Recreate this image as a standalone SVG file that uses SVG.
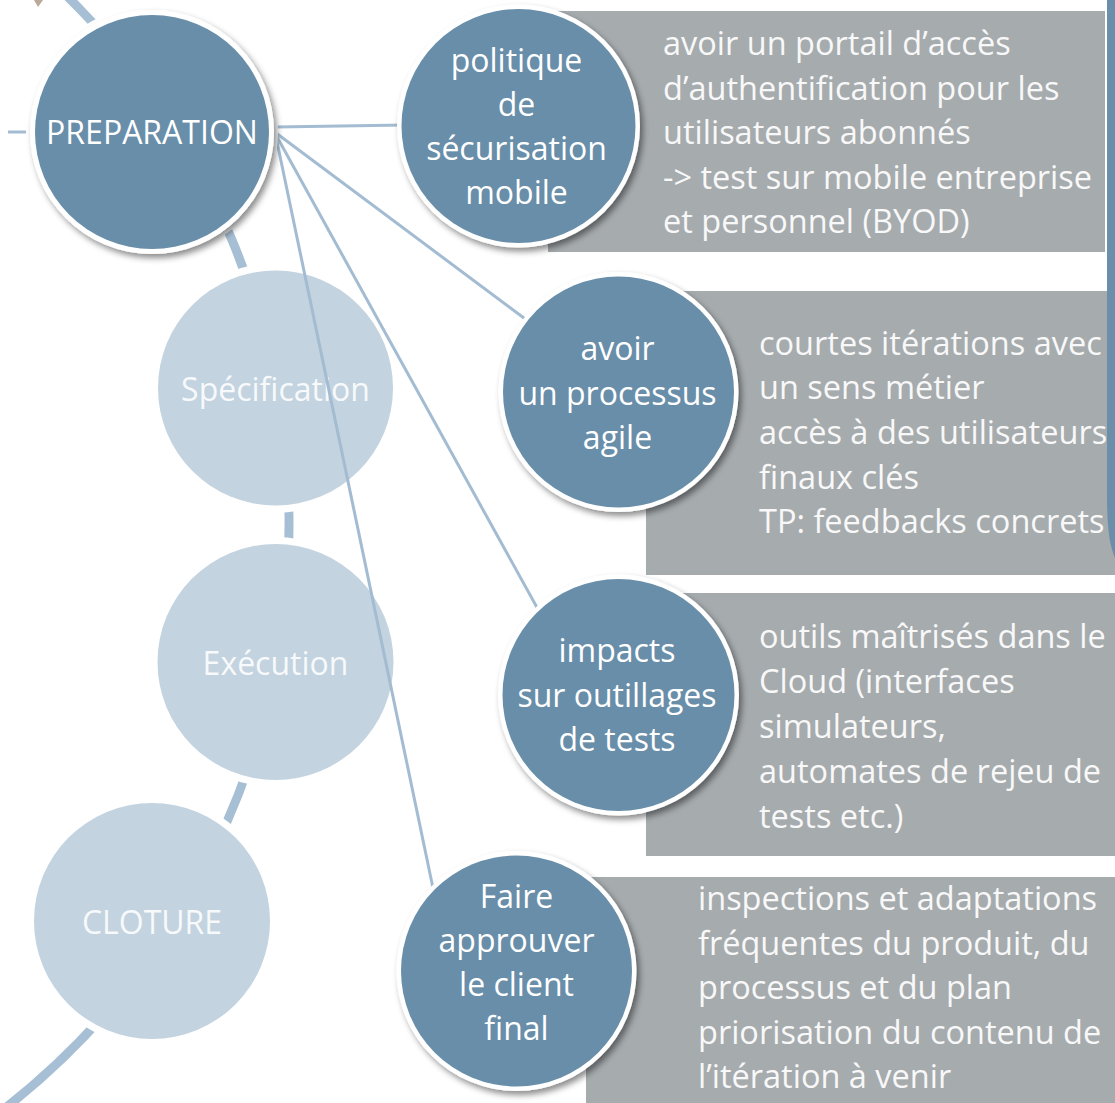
<svg xmlns="http://www.w3.org/2000/svg" width="1115" height="1103" viewBox="0 0 1115 1103">
<defs>
<filter id="sh" x="-20%" y="-20%" width="140%" height="140%">
<feDropShadow dx="3" dy="4" stdDeviation="3" flood-color="#000" flood-opacity="0.45"/>
</filter>
<style>
.arc{fill:none;stroke:#a7bfd4;stroke-width:9}
.con{stroke:#a3bcd2;stroke-width:3;fill:none}
.halo{fill:#fff}
.light{fill:#c3d3df}
.ring{fill:#fff}
.dark{fill:#688ea9}
.box{fill:#a6abae}
.t{font-family:"Open Sans","Liberation Sans",sans-serif;font-size:32px;fill:#fff}
.c{text-anchor:middle}
.lt{fill:#f7f9fb}
.bt{fill:#f8f8f8;font-size:32.5px}
</style>
</defs>
<rect width="1115" height="1103" fill="#fff"/>
<g id="background">
<path class="arc" d="M60.7,-10 A741,741 0 0 1 -3.7,1115"/>
<polygon points="34,0 43,0 38,7" fill="#b9aa9a"/>
<line x1="8" y1="132" x2="30" y2="132" class="con"/>
</g>
<g id="spec">
<circle class="halo" cx="275.5" cy="388" r="125"/>
<circle class="light" cx="275.5" cy="388" r="117.5"/>
<text class="t c lt" x="275.5" y="401">Spécification</text>
</g>
<g id="exec">
<circle class="halo" cx="275.5" cy="662" r="125"/>
<circle class="light" cx="275.5" cy="662" r="118"/>
<text class="t c lt" x="275.5" y="675">Exécution</text>
</g>
<g id="cloture">
<circle class="halo" cx="152" cy="921" r="125"/>
<circle class="light" cx="152" cy="921" r="118"/>
<text class="t c lt" x="152" y="934">CLOTURE</text>
</g>
<g id="box1">
<rect class="box" x="548" y="11" width="557" height="241"/>
<text class="t bt" x="663"><tspan x="663" y="55">avoir un portail d’accès</tspan><tspan x="663" y="100">d’authentification pour les</tspan><tspan x="663" y="144">utilisateurs abonnés</tspan><tspan x="663" y="189">-&gt; test sur mobile entreprise</tspan><tspan x="663" y="233">et personnel (BYOD)</tspan></text>
</g>
<g id="box2">
<rect class="box" x="646" y="291" width="469" height="284"/>
<text class="t bt" x="759"><tspan x="759" y="355">courtes itérations avec</tspan><tspan x="759" y="399">un sens métier</tspan><tspan x="759" y="444">accès à des utilisateurs</tspan><tspan x="759" y="489">finaux clés</tspan><tspan x="759" y="533">TP: feedbacks concrets</tspan></text>
</g>
<g id="box3">
<rect class="box" x="646" y="593" width="469" height="263"/>
<text class="t bt" x="759"><tspan x="759" y="648">outils maîtrisés dans le</tspan><tspan x="759" y="693">Cloud (interfaces</tspan><tspan x="759" y="738">simulateurs,</tspan><tspan x="759" y="783">automates de rejeu de</tspan><tspan x="759" y="828">tests etc.)</tspan></text>
</g>
<g id="box4">
<rect class="box" x="586" y="877" width="529" height="226"/>
<text class="t bt" x="698"><tspan x="698" y="910">inspections et adaptations</tspan><tspan x="698" y="955">fréquentes du produit, du</tspan><tspan x="698" y="999">processus et du plan</tspan><tspan x="698" y="1044">priorisation du contenu de</tspan><tspan x="698" y="1088">l’itération à venir</tspan></text>
</g>
<g id="sidebar">
<path d="M1107,0 L1107,495 C1107,530 1110,548 1116,560 L1116,0 Z" fill="#6b8fab"/>
</g>
<g id="connectors">
<line class="con" x1="276" y1="127" x2="405" y2="125"/>
<line class="con" x1="276" y1="133" x2="540" y2="330"/>
<line class="con" x1="276" y1="135" x2="545" y2="622"/>
<line class="con" x1="276" y1="137" x2="438" y2="912"/>
</g>
<g id="preparation">
<circle class="halo" cx="152" cy="132" r="126"/>
<circle class="ring" cx="152" cy="132" r="122" filter="url(#sh)"/>
<circle class="dark" cx="152" cy="132" r="117"/>
<text class="t c" x="152" y="144">PREPARATION</text>
</g>
<g id="politique">
<circle class="ring" cx="518.5" cy="126" r="121.5" filter="url(#sh)"/>
<circle class="dark" cx="518.5" cy="126" r="117"/>
<text class="t c"><tspan x="516.5" y="72">politique</tspan><tspan x="516.5" y="116">de</tspan><tspan x="516.5" y="160">sécurisation</tspan><tspan x="516.5" y="204">mobile</tspan></text>
</g>
<g id="agile">
<circle class="ring" cx="618.5" cy="392" r="120" filter="url(#sh)"/>
<circle class="dark" cx="618.5" cy="392" r="115.5"/>
<text class="t c"><tspan x="617.5" y="360">avoir</tspan><tspan x="617.5" y="405">un processus</tspan><tspan x="617.5" y="449">agile</tspan></text>
</g>
<g id="impacts">
<circle class="ring" cx="618.5" cy="695" r="120.5" filter="url(#sh)"/>
<circle class="dark" cx="618.5" cy="695" r="116"/>
<text class="t c"><tspan x="617" y="662">impacts</tspan><tspan x="617" y="707">sur outillages</tspan><tspan x="617" y="751">de tests</tspan></text>
</g>
<g id="faire">
<circle class="ring" cx="516.5" cy="971" r="120" filter="url(#sh)"/>
<circle class="dark" cx="516.5" cy="971" r="115.5"/>
<text class="t c"><tspan x="516.5" y="908">Faire</tspan><tspan x="516.5" y="952">approuver</tspan><tspan x="516.5" y="996">le client</tspan><tspan x="516.5" y="1040">final</tspan></text>
</g>
</svg>
